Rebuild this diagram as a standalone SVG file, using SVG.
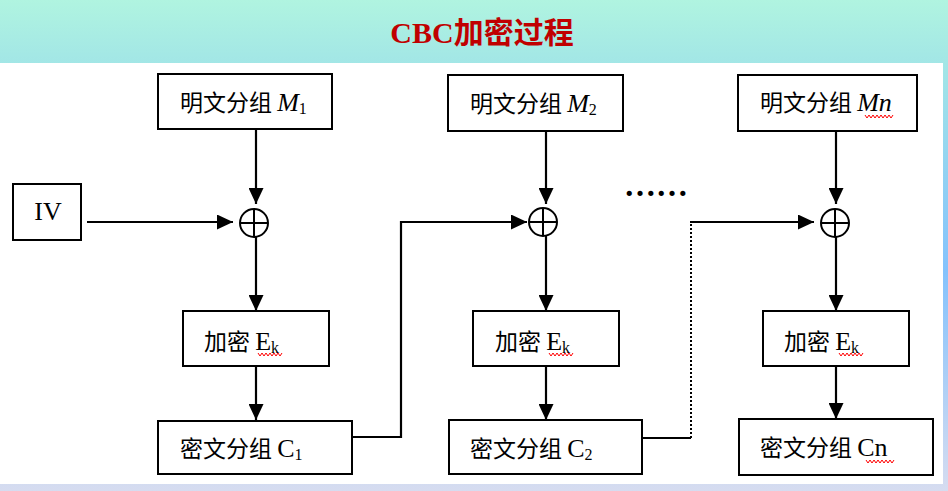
<svg xmlns="http://www.w3.org/2000/svg" width="948" height="491" viewBox="0 0 948 491">
<defs>
<linearGradient id="bg" x1="0" y1="0" x2="0" y2="1">
<stop offset="0" stop-color="#b0f4e0"/>
<stop offset="0.13" stop-color="#a2e6e6"/>
<stop offset="0.35" stop-color="#92d2f2"/>
<stop offset="0.55" stop-color="#84c2fc"/>
<stop offset="1" stop-color="#d6dcf0"/>
</linearGradient>
<marker id="ah" markerWidth="16" markerHeight="15" refX="16" refY="7.5" orient="auto" markerUnits="userSpaceOnUse"><path d="M0,0 L16,7.5 L0,15 Z" fill="#000"/></marker>
</defs>
<style>
.box{fill:#fff;stroke:#000;stroke-width:2}
.cj{font-family:"Noto Sans CJK SC","Liberation Sans",sans-serif;font-size:23px;fill:#000}
.lt{font-family:"Liberation Serif",serif;font-size:26px}
.it{font-style:italic}
.sub{font-family:"Liberation Serif",serif;font-size:16px}
.ln{fill:none;stroke:#000;stroke-width:2.2}
.dot{fill:none;stroke:#000;stroke-width:2;stroke-dasharray:2 2}
.sq{fill:none;stroke:#f00;stroke-width:1}
.xor{fill:none;stroke:#000;stroke-width:2}
.title{font-family:"Liberation Serif","Noto Sans CJK SC",serif;font-size:30px;font-weight:bold;fill:#c00000}
</style>
<rect x="0" y="0" width="948" height="491" fill="url(#bg)"/>
<rect x="0" y="63" width="943" height="421" fill="#fff"/>
<text class="title" x="482" y="43" text-anchor="middle">CBC加密过程</text>

<g id="connectors">
<line class="ln" x1="256" y1="129" x2="256" y2="204" marker-end="url(#ah)"/>
<line class="ln" x1="87" y1="222" x2="233" y2="222" marker-end="url(#ah)"/>
<line class="ln" x1="256" y1="237" x2="256" y2="311" marker-end="url(#ah)"/>
<line class="ln" x1="256" y1="366" x2="256" y2="420" marker-end="url(#ah)"/>
<polyline class="ln" points="352,437 401,437 401,222 527,222" marker-end="url(#ah)"/>
<line class="ln" x1="546" y1="131" x2="546" y2="204" marker-end="url(#ah)"/>
<line class="ln" x1="546" y1="236" x2="546" y2="311" marker-end="url(#ah)"/>
<line class="ln" x1="546" y1="366" x2="546" y2="420" marker-end="url(#ah)"/>
<polyline class="ln" points="642,438 691,438"/>
<line class="dot" x1="691" y1="438" x2="691" y2="222"/>
<line class="ln" x1="690" y1="222" x2="814" y2="222" marker-end="url(#ah)"/>
<line class="ln" x1="836" y1="131" x2="836" y2="204" marker-end="url(#ah)"/>
<line class="ln" x1="836" y1="237" x2="836" y2="311" marker-end="url(#ah)"/>
<line class="ln" x1="836" y1="366" x2="836" y2="419" marker-end="url(#ah)"/>
</g>

<text class="lt" x="624" y="196" style="font-size:32px;font-weight:bold">……</text>

<g id="iv">
<rect class="box" x="13" y="184" width="68" height="56"/>
<text class="lt" x="48" y="220" text-anchor="middle">IV</text>
</g>

<g id="m1">
<rect class="box" x="158" y="74" width="174" height="55"/>
<text class="cj" x="180" y="111">明文分组 <tspan class="lt it">M</tspan><tspan class="sub" dy="3">1</tspan></text>
</g>
<g id="xor1">
<circle class="xor" cx="254" cy="223" r="14"/>
<path class="xor" d="M240,223 H268 M254,209 V237"/>
</g>
<g id="e1">
<rect class="box" x="183" y="311" width="146" height="55"/>
<text class="cj" x="204" y="350">加密 <tspan class="lt">E</tspan><tspan class="sub" dy="3">k</tspan></text>
</g>
<g id="c1">
<rect class="box" x="158" y="421" width="194" height="53"/>
<text class="cj" x="180" y="457">密文分组 <tspan class="lt">C</tspan><tspan class="sub" dy="3">1</tspan></text>
</g>

<g id="m2">
<rect class="box" x="448" y="75" width="175" height="56"/>
<text class="cj" x="470" y="112">明文分组 <tspan class="lt it">M</tspan><tspan class="sub" dy="3">2</tspan></text>
</g>
<g id="xor2">
<circle class="xor" cx="543" cy="222" r="14"/>
<path class="xor" d="M529,222 H557 M543,208 V236"/>
</g>
<g id="e2">
<rect class="box" x="473" y="311" width="146" height="55"/>
<text class="cj" x="495" y="350">加密 <tspan class="lt">E</tspan><tspan class="sub" dy="3">k</tspan></text>
</g>
<g id="c2">
<rect class="box" x="449" y="420" width="193" height="54"/>
<text class="cj" x="470" y="457">密文分组 <tspan class="lt">C</tspan><tspan class="sub" dy="3">2</tspan></text>
</g>

<g id="mn">
<rect class="box" x="738" y="75" width="179" height="56"/>
<text class="cj" x="760" y="111">明文分组 <tspan class="lt it">Mn</tspan></text>
</g>
<g id="xor3">
<circle class="xor" cx="835" cy="223" r="14"/>
<path class="xor" d="M821,223 H849 M835,209 V237"/>
</g>
<g id="e3">
<rect class="box" x="763" y="311" width="146" height="55"/>
<text class="cj" x="784" y="350">加密 <tspan class="lt">E</tspan><tspan class="sub" dy="3">k</tspan></text>
</g>
<g id="cn">
<rect class="box" x="739" y="419" width="194" height="56"/>
<text class="cj" x="760" y="456">密文分组 <tspan class="lt">Cn</tspan></text>
</g>

<g id="squiggles">
<path class="sq" d="M258,353 l2,3 l2,-3 l2,3 l2,-3 l2,3 l2,-3 l2,3 l2,-3 l2,3 l2,-3 l2,3 l2,-3"/>
<path class="sq" d="M549,353 l2,3 l2,-3 l2,3 l2,-3 l2,3 l2,-3 l2,3 l2,-3 l2,3 l2,-3 l2,3 l2,-3"/>
<path class="sq" d="M839,353 l2,3 l2,-3 l2,3 l2,-3 l2,3 l2,-3 l2,3 l2,-3 l2,3 l2,-3 l2,3 l2,-3"/>
<path class="sq" d="M865,115 l2,3 l2,-3 l2,3 l2,-3 l2,3 l2,-3 l2,3 l2,-3 l2,3 l2,-3 l2,3 l2,-3 l2,3 l2,-3"/>
<path class="sq" d="M866,460 l2,3 l2,-3 l2,3 l2,-3 l2,3 l2,-3 l2,3 l2,-3 l2,3 l2,-3 l2,3 l2,-3 l2,3 l2,-3"/>
</g>
</svg>
